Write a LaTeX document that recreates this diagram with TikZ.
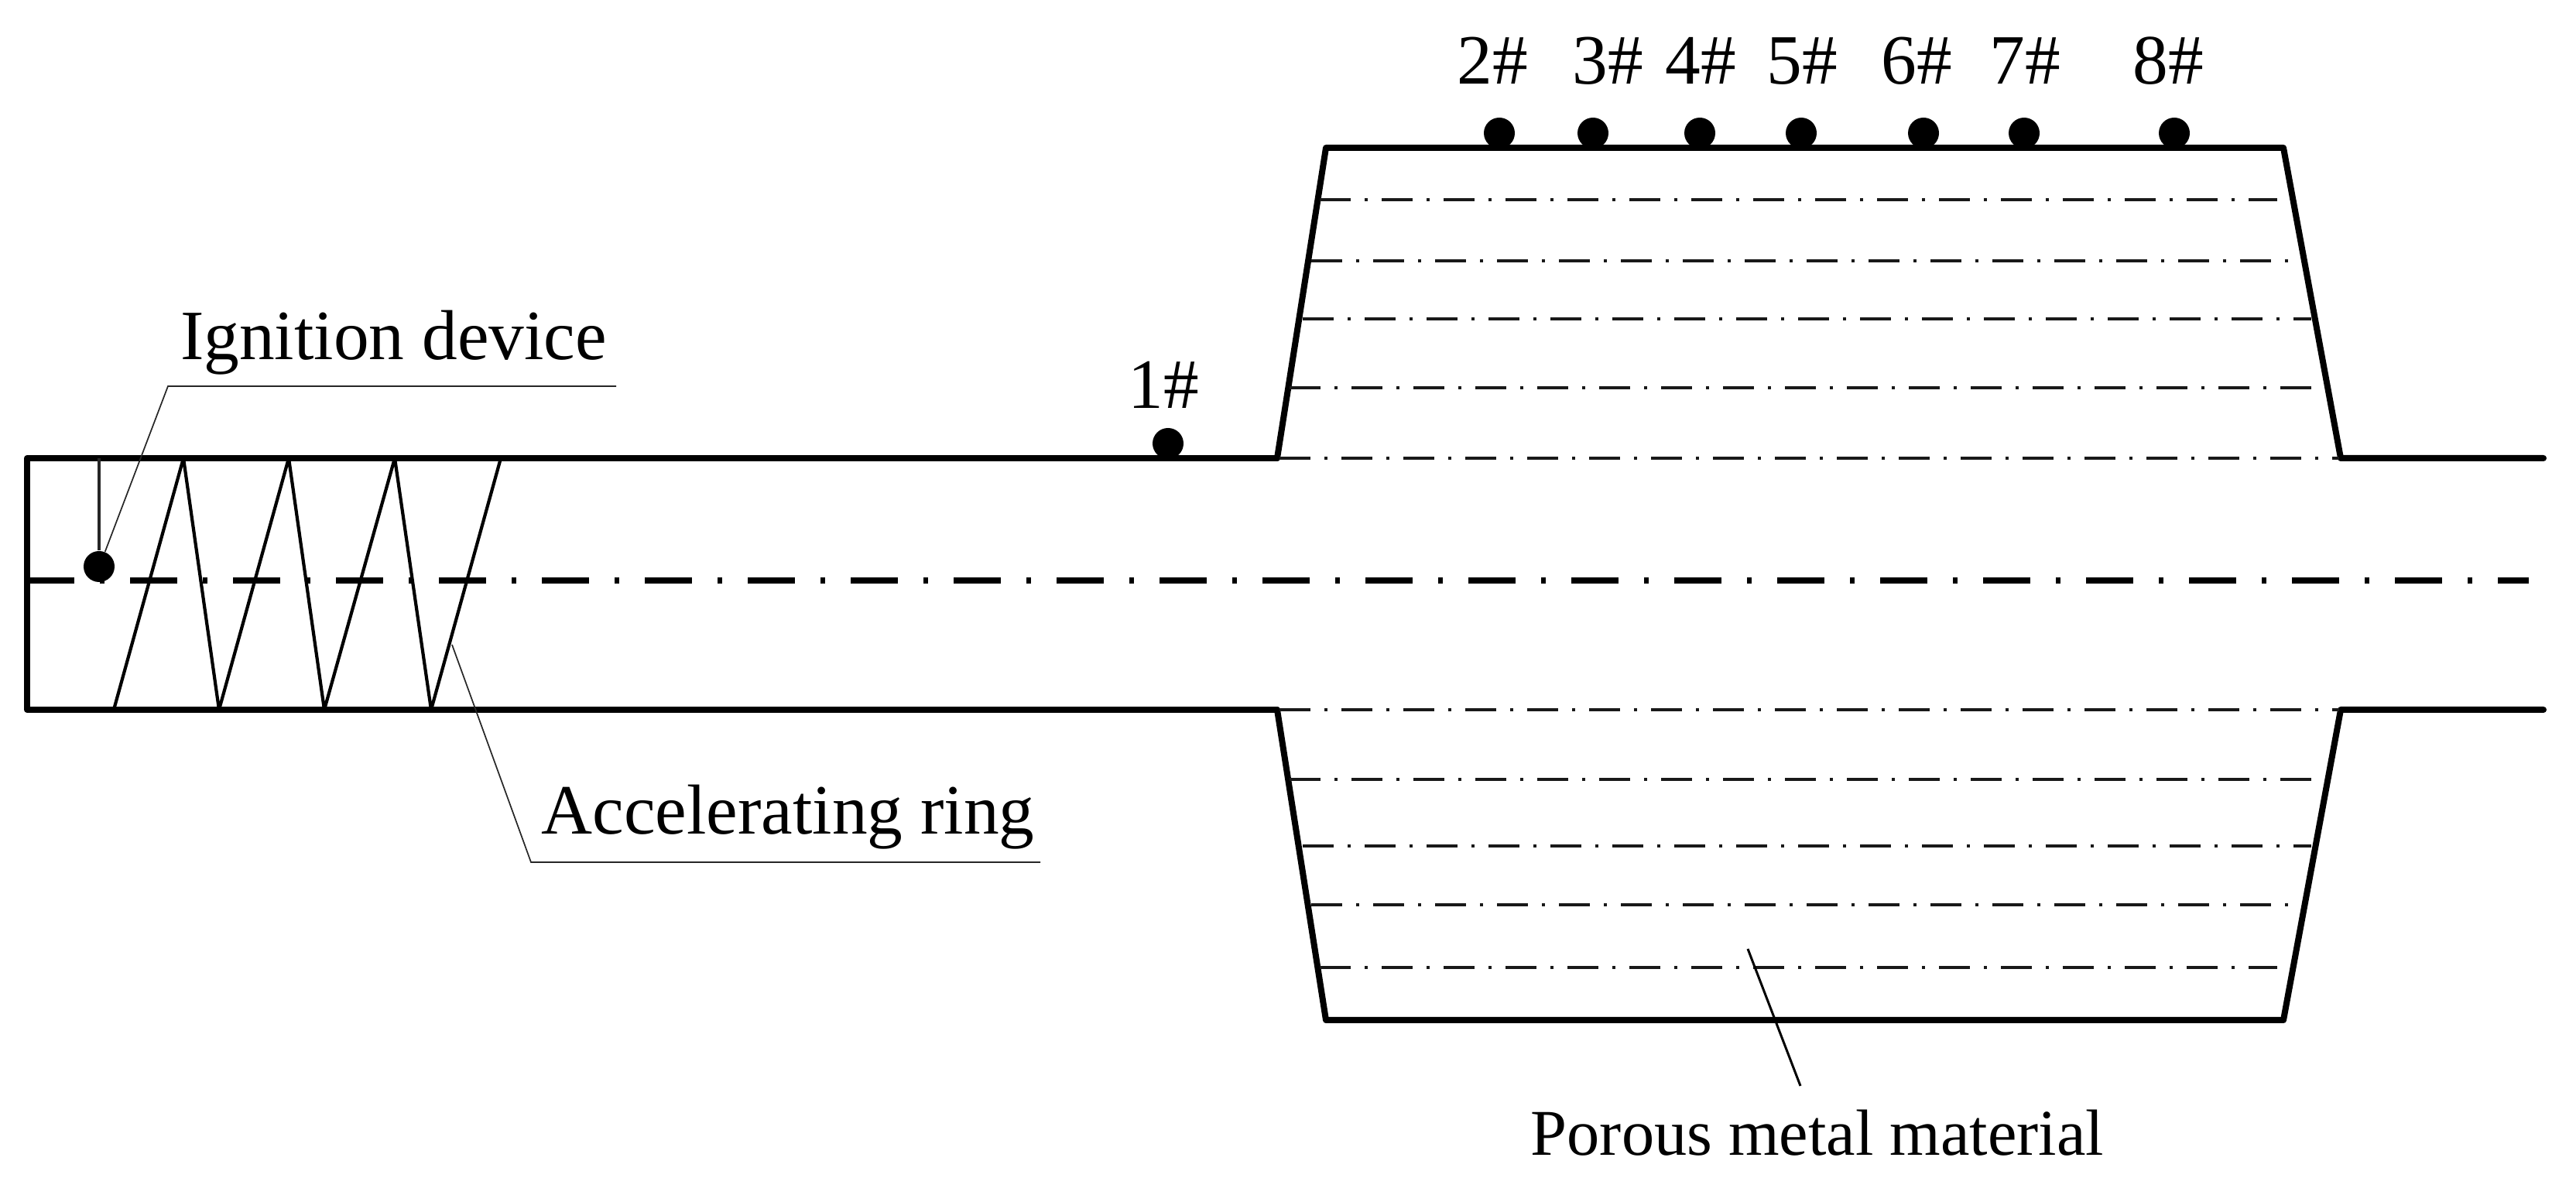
\documentclass[tikz,border=0pt]{standalone}
\usepackage{fontspec}
\setmainfont{Liberation Serif}
\usetikzlibrary{arrows.meta,positioning,shapes,calc}

\tikzset{
  wall/.style={line width=0.08cm, line cap=round, line join=round},
  ringline/.style={line width=0.042cm, line join=round},
  axisline/.style={line width=0.08cm, dash pattern=on 0.61cm off 0.33cm on 0.06cm off 0.33cm},
  layer/.style={line width=0.036cm, black!90, dash pattern=on 0.40cm off 0.18cm on 0.04cm off 0.18cm},
  leader/.style={line width=0.017cm, black!85},
  probe/.style={circle, fill=black, inner sep=0pt, minimum size=0.40cm},
  tag/.style={anchor=base, inner sep=0pt, font=\fontsize{26}{30}\selectfont},
}

\begin{document}
\begin{tikzpicture}
\useasboundingbox (0,0) rectangle (33.28,15.22);

% Tube and chamber outline
\draw[wall] (16.50,9.30) -- (0.35,9.30) -- (0.35,6.05) -- (16.50,6.05);
\draw[wall] (16.50,9.30) -- (17.13,13.31) -- (29.50,13.31) -- (30.24,9.30) -- (32.86,9.30);
\draw[wall] (16.50,6.05) -- (17.13,2.04) -- (29.50,2.04) -- (30.24,6.05) -- (32.86,6.05);

% Centre line
\draw[axisline] (0.35,7.72) -- (32.67,7.72);

% Porous layers
\foreach \y/\xa/\xb in {12.64/17.05/29.42, 11.85/16.94/29.58, 11.10/16.83/29.86, 10.21/16.66/30.00, 9.30/16.53/30.22,
                        6.05/16.53/30.22, 5.15/16.66/30.00, 4.29/16.83/29.86, 3.53/16.94/29.66, 2.72/17.05/29.42}
  \draw[layer] (\xa,\y) -- (\xb,\y);

% Accelerating ring
\draw[ringline] (1.47,6.05) -- (2.37,9.30) -- (2.83,6.05) -- (3.73,9.30) -- (4.19,6.05)
  -- (5.10,9.30) -- (5.57,6.05) -- (6.47,9.30);

% Ignition device
\node[probe] (ign) at (1.28,7.90) {};
\coordinate (ignTop) at (1.28,9.30);
\draw[line width=0.035cm, black!85] (ignTop) -- (ign);

% Measuring points
\node[probe] (p1) at (15.09,9.49) {};
\node[tag] (t1) at (15.03,9.94) {1\#};
\foreach \n/\x/\lx in {2/19.37/19.28, 3/20.58/20.77, 4/21.96/21.97, 5/23.27/23.28,
                       6/24.85/24.76, 7/26.15/26.16, 8/28.09/28.01} {
  \node[probe] (p\n) at (\x,13.50) {};
  \node[tag] (t\n) at (\lx,14.13) {\n\#};
}

% Callouts
\node[tag] (ignLabel) at (5.085,10.57) {Ignition device};
\coordinate (ignKnee) at (2.17,10.23);
\coordinate (ignEnd) at (7.96,10.23);
\draw[leader] (ign.68) -- (ignKnee) -- (ignEnd);

\node[tag] (ringLabel) at (10.18,4.44) {Accelerating ring};
\coordinate (ringStart) at (5.84,6.89);
\coordinate (ringKnee) at (6.86,4.08);
\coordinate (ringEnd) at (13.44,4.08);
\draw[leader] (ringStart) -- (ringKnee) -- (ringEnd);

\node[tag, font=\fontsize{24}{28}\selectfont] (poreLabel) at (23.48,0.29) {Porous metal material};
\coordinate (poreStart) at (22.58,2.96);
\coordinate (poreEnd) at (23.26,1.19);
\draw[line width=0.03cm] (poreStart) -- (poreEnd);

\end{tikzpicture}
\end{document}
